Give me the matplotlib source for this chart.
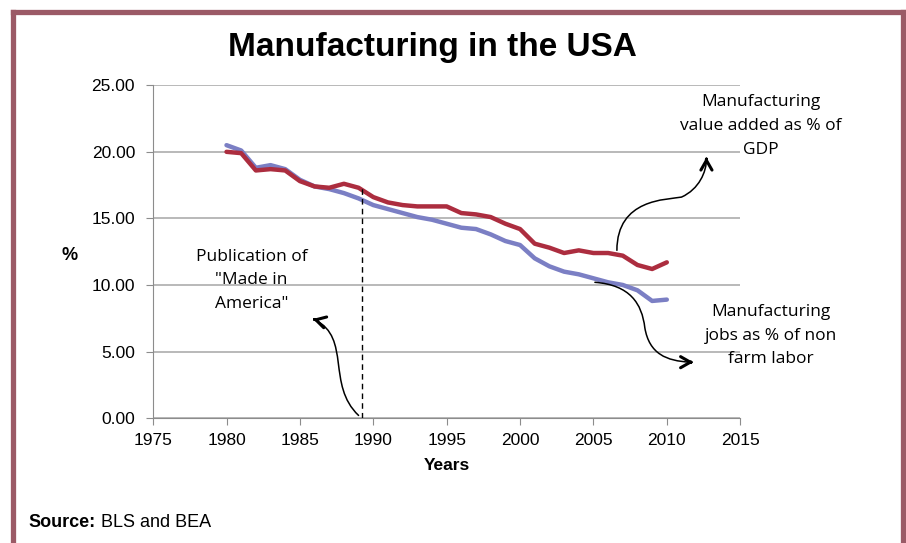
import matplotlib.pyplot as plt
from matplotlib.path import Path
from matplotlib.patches import FancyArrowPatch
from matplotlib.lines import Line2D

# Data
years = list(range(1980, 2011))
value_added = [20.0, 19.9, 18.6, 18.7, 18.6, 17.8, 17.4, 17.3, 17.6, 17.3,
               16.6, 16.2, 16.0, 15.9, 15.9, 15.9, 15.4, 15.3, 15.1, 14.6,
               14.2, 13.1, 12.8, 12.4, 12.6, 12.4, 12.4, 12.2, 11.5, 11.2,
               11.7]
jobs = [20.5, 20.1, 18.8, 19.0, 18.7, 17.9, 17.4, 17.2, 16.9, 16.5,
        16.0, 15.7, 15.4, 15.1, 14.9, 14.6, 14.3, 14.2, 13.8, 13.3,
        13.0, 12.0, 11.4, 11.0, 10.8, 10.5, 10.2, 10.0, 9.6, 8.8,
        8.9]
x_ticks = [1975, 1980, 1985, 1990, 1995, 2000, 2005, 2010, 2015]
y_ticks = [0, 5, 10, 15, 20, 25]
pub_year = 1989.2

fig = plt.figure(figsize=(9.06, 5.43), dpi=100)
ax = fig.add_axes([0.169, 0.230, 0.648, 0.613])

ax.plot(years, jobs, color='#7b7fc4', lw=3.2, solid_capstyle='round', zorder=3)
ax.plot(years, value_added, color='#ac2d3f', lw=3.2, solid_capstyle='round', zorder=4)

ax.set_xlim(1975, 2015)
ax.set_ylim(0, 25)
ax.set_xticks(x_ticks)
ax.set_yticks(y_ticks)
ax.set_yticklabels(['%.2f' % v for v in y_ticks])
ax.grid(axis='y', color='#a6a6a6', lw=1.1)
ax.set_axisbelow(True)
for s in ['top', 'right']:
    ax.spines[s].set_visible(False)
for s in ['left', 'bottom']:
    ax.spines[s].set_color('#8c8c8c')
ax.tick_params(colors='#8c8c8c', labelcolor='black', labelsize=12.5, length=5)
ax.tick_params(axis='y', pad=8)
ax.tick_params(axis='x', pad=6)
for lab in ax.get_xticklabels() + ax.get_yticklabels():
    lab.set_family('Liberation Sans')

ax.set_xlabel('Years', fontsize=12.5, fontweight='bold', family='Liberation Sans', labelpad=7)
ax.set_ylabel('%', fontsize=13, fontweight='bold', family='Liberation Sans',
              rotation=0, va='center', ha='center')
ax.yaxis.set_label_coords(-0.142, 0.49)

# dashed line at publication year
ax.plot([pub_year, pub_year], [0, 17.3], color='black', lw=1, ls=(0, (4, 3)), zorder=5)

note_font = dict(family='Open Sans', fontsize=12.5, ha='center', va='center',
                 linespacing=1.65)
ax.text(1981.7, 10.35, 'Publication of\n"Made in\nAmerica"', **note_font)
ax.text(2016.4, 21.95, 'Manufacturing\nvalue added as % of\nGDP', clip_on=False, **note_font)
ax.text(2017.1, 6.2, 'Manufacturing\njobs as % of non\nfarm labor', clip_on=False, **note_font)


def curve(verts):
    codes = [Path.MOVETO] + [Path.CURVE4] * (len(verts) - 1)
    arr = FancyArrowPatch(path=Path(verts, codes), arrowstyle='-|>,head_length=0.01',
                          color='black', lw=1.1, zorder=6)
    ax.add_patch(arr)


def head(x, y, dx, dy):
    ax.annotate('', xy=(x, y), xytext=(x - dx, y - dy),
                arrowprops=dict(arrowstyle='->,head_length=0.7,head_width=0.4',
                                color='black', lw=2.2),
                annotation_clip=False, zorder=7)


# arrow from publication line towards the text
curve([(1989.0, 0.2), (1986.8, 2.5), (1988.5, 6.0), (1986.0, 7.4)])
head(1985.7, 7.5, -0.5, 0.15)
# arrow to value added label
curve([(2006.6, 12.6), (2006.6, 16.5), (2010.0, 16.4), (2011.0, 16.6),
       (2012.2, 17.2), (2012.7, 18.5), (2012.7, 19.5)])
head(2012.7, 19.8, 0.0, 0.6)
# arrow to jobs label
curve([(2005.1, 10.2), (2007.5, 10.0), (2008.3, 8.6), (2008.5, 6.8),
       (2008.8, 4.8), (2010.0, 4.3), (2011.6, 4.2)])
head(2012.0, 4.2, 0.6, 0.0)

fig.text(0.477, 0.913, 'Manufacturing in the USA', ha='center', va='center',
         fontsize=24, fontweight='bold', family='Liberation Sans')
fig.text(0.031, 0.038, 'Source:', ha='left', va='center', fontsize=13,
         fontweight='bold', family='Liberation Sans')
fig.text(0.112, 0.038, 'BLS and BEA', ha='left', va='center', fontsize=13,
         family='Liberation Sans')

# maroon frame (open at the bottom)
frame = '#9b5a66'
fig.add_artist(Line2D([0.0138, 0.0138], [0, 0.9775], color=frame, lw=3.8,
                      transform=fig.transFigure, solid_capstyle='projecting'))
fig.add_artist(Line2D([0.0138, 0.9967], [0.9775, 0.9775], color=frame, lw=3.8,
                      transform=fig.transFigure, solid_capstyle='projecting'))
fig.add_artist(Line2D([0.9967, 0.9967], [0, 0.9775], color=frame, lw=3.8,
                      transform=fig.transFigure, solid_capstyle='projecting'))

fig.savefig('out.png', dpi=100)
